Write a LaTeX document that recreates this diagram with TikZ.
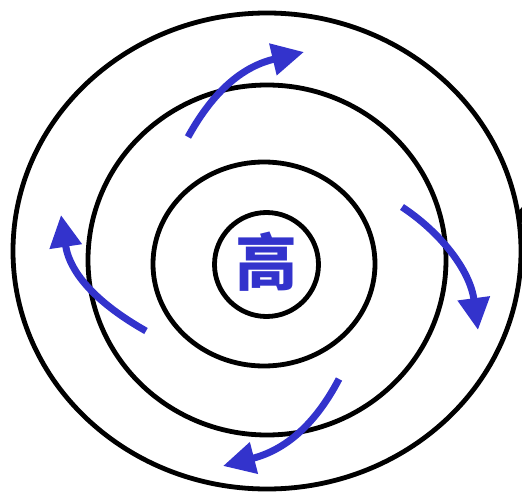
\documentclass[tikz,border=0pt]{standalone}
\usepackage{fontspec}
\newfontfamily\cjk{Noto Sans CJK SC}
\usetikzlibrary{arrows.meta}
\definecolor{flowblue}{HTML}{3333CC}

\begin{document}
\begin{tikzpicture}[x=1pt,y=-1pt,
 ring/.style={draw=black,line width=4.8pt},
 flow/.style={draw=flowblue,line width=7pt,-{Triangle[length=32pt,width=31pt]}},
 >=Stealth]
\useasboundingbox (0,0) rectangle (522,492);
\draw[ring] (267,251) ellipse [x radius=254,y radius=238];
\draw[ring] (267,260) ellipse [x radius=179,y radius=175];
\draw[ring] (264,264) ellipse [x radius=111,y radius=102];
\draw[ring] (266.5,264.5) circle [radius=52];
\fill (517,213) -- (522,207) -- (522,224) -- cycle;
\node[text=flowblue,font=\cjk\bfseries\fontsize{62}{62}\selectfont,inner sep=0] (high) at (266,262) {高};
\coordinate (n1) at (188,137); \coordinate (n2) at (304,52);
\coordinate (e1) at (402,207); \coordinate (e2) at (478,330);
\coordinate (s1) at (339,379); \coordinate (s2) at (223,466);
\coordinate (w1) at (146,331); \coordinate (w2) at (61,215);
\draw[flow] (n1) .. controls (215,88) and (245,66) .. (n2);
\draw[flow] (e1) .. controls (440,232) and (470,270) .. (e2);
\draw[flow] (s1) .. controls (315,425) and (285,450) .. (s2);
\draw[flow] (w1) .. controls (100,305) and (70,275) .. (w2);
\end{tikzpicture}
\end{document}
